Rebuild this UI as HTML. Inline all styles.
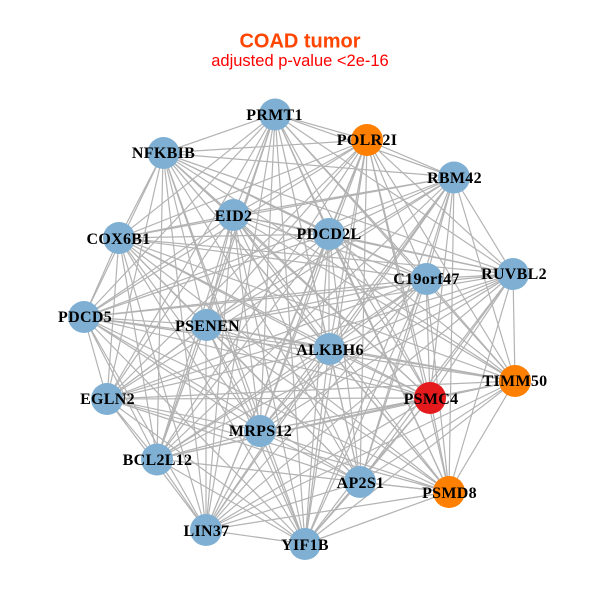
<!DOCTYPE html>
<html><head><meta charset="utf-8"><style>html,body{margin:0;padding:0;background:#fff}svg{display:block}.l{font:bold 16px "Liberation Serif",serif;fill:#000;text-anchor:middle;letter-spacing:.3px}</style></head><body>
<svg width="600" height="600" viewBox="0 0 600 600" xmlns="http://www.w3.org/2000/svg">
<rect width="600" height="600" fill="#fff"/>
<g fill="none" stroke="#b3b3b3" stroke-width="1.2">
<path d="M275 114L163 153M275 114L367 140M275 114L454 177M275 114L233 215M275 114L119 238M275 114L329 234M275 114L426 279M275 114L513 274M275 114L84 317M275 114L206 325M275 114L329 349M275 114L515 381M275 114L430 398M275 114L107 399M275 114L260 431M275 114L157 459M275 114L360 482M275 114L449 492M275 114L206 530M275 114L305 544"/>
<path d="M163 153L367 140M163 153L454 177M163 153L233 215M163 153L119 238M163 153L329 234M163 153L426 279M163 153L513 274M163 153L84 317M163 153L206 325M163 153L329 349M163 153L515 381M163 153L430 398M163 153L107 399M163 153L260 431M163 153L157 459M163 153L360 482M163 153L449 492M163 153L206 530M163 153L305 544"/>
<path d="M367 140L454 177M367 140L233 215M367 140L119 238M367 140L329 234M367 140L426 279M367 140L513 274M367 140L84 317M367 140L206 325M367 140L329 349M367 140L515 381M367 140L430 398M367 140L107 399M367 140L260 431M367 140L157 459M367 140L360 482M367 140L449 492M367 140L206 530M367 140L305 544"/>
<path d="M454 177L233 215M454 177L119 238M454 177L329 234M454 177L426 279M454 177L513 274M454 177L84 317M454 177L206 325M454 177L329 349M454 177L515 381M454 177L430 398M454 177L107 399M454 177L260 431M454 177L157 459M454 177L360 482M454 177L449 492M454 177L206 530M454 177L305 544"/>
<path d="M233 215L119 238M233 215L329 234M233 215L426 279M233 215L513 274M233 215L84 317M233 215L206 325M233 215L329 349M233 215L515 381M233 215L430 398M233 215L107 399M233 215L260 431M233 215L157 459M233 215L360 482M233 215L449 492M233 215L206 530M233 215L305 544"/>
<path d="M119 238L329 234M119 238L426 279M119 238L513 274M119 238L84 317M119 238L206 325M119 238L329 349M119 238L515 381M119 238L430 398M119 238L107 399M119 238L260 431M119 238L157 459M119 238L360 482M119 238L449 492M119 238L206 530M119 238L305 544"/>
<path d="M329 234L426 279M329 234L513 274M329 234L84 317M329 234L206 325M329 234L329 349M329 234L515 381M329 234L430 398M329 234L107 399M329 234L260 431M329 234L157 459M329 234L360 482M329 234L449 492M329 234L206 530M329 234L305 544"/>
<path d="M426 279L513 274M426 279L84 317M426 279L206 325M426 279L329 349M426 279L515 381M426 279L430 398M426 279L107 399M426 279L260 431M426 279L157 459M426 279L360 482M426 279L449 492M426 279L206 530M426 279L305 544"/>
<path d="M513 274L84 317M513 274L206 325M513 274L329 349M513 274L515 381M513 274L430 398M513 274L107 399M513 274L260 431M513 274L157 459M513 274L360 482M513 274L449 492M513 274L206 530M513 274L305 544"/>
<path d="M84 317L206 325M84 317L329 349M84 317L515 381M84 317L430 398M84 317L107 399M84 317L260 431M84 317L157 459M84 317L360 482M84 317L449 492M84 317L206 530M84 317L305 544"/>
<path d="M206 325L329 349M206 325L515 381M206 325L430 398M206 325L107 399M206 325L260 431M206 325L157 459M206 325L360 482M206 325L449 492M206 325L206 530M206 325L305 544"/>
<path d="M329 349L515 381M329 349L430 398M329 349L107 399M329 349L260 431M329 349L157 459M329 349L360 482M329 349L449 492M329 349L206 530M329 349L305 544"/>
<path d="M515 381L430 398M515 381L107 399M515 381L260 431M515 381L157 459M515 381L360 482M515 381L449 492M515 381L206 530M515 381L305 544"/>
<path d="M430 398L107 399M430 398L260 431M430 398L157 459M430 398L360 482M430 398L449 492M430 398L206 530M430 398L305 544"/>
<path d="M107 399L260 431M107 399L157 459M107 399L360 482M107 399L449 492M107 399L206 530M107 399L305 544"/>
<path d="M260 431L157 459M260 431L360 482M260 431L449 492M260 431L206 530M260 431L305 544"/>
<path d="M157 459L360 482M157 459L449 492M157 459L206 530M157 459L305 544"/>
<path d="M360 482L449 492M360 482L206 530M360 482L305 544"/>
<path d="M449 492L206 530M449 492L305 544M206 530L305 544"/>
</g>
<g fill="#7fb0d3">
<circle cx="275" cy="114.500" r="16"/><circle cx="163.500" cy="153" r="16"/><circle cx="454" cy="177.500" r="16"/><circle cx="233.500" cy="215" r="16"/><circle cx="119" cy="238" r="16"/><circle cx="329" cy="234" r="16"/><circle cx="426.500" cy="279" r="16"/><circle cx="513" cy="274" r="16"/><circle cx="84" cy="317" r="16"/><circle cx="206.500" cy="325" r="16"/><circle cx="329.500" cy="349" r="16"/><circle cx="107" cy="399" r="16"/><circle cx="260" cy="431" r="16"/><circle cx="157" cy="459.500" r="16"/><circle cx="360" cy="482" r="16"/><circle cx="206" cy="530" r="16"/><circle cx="305" cy="544" r="16"/>
</g>
<g fill="#ff7f00"><circle cx="367" cy="140" r="16"/><circle cx="515" cy="381" r="16"/><circle cx="449" cy="492" r="16"/></g>
<circle cx="430" cy="398" r="16" fill="#e41a1c"/>
<g>
<text class="l" x="274.500" y="120">PRMT1</text>
<text class="l" x="163.500" y="158">NFKBIB</text>
<text class="l" x="367" y="145">POLR2I</text>
<text class="l" x="454.500" y="183">RBM42</text>
<text class="l" x="233.500" y="221">EID2</text>
<text class="l" x="118.500" y="244">COX6B1</text>
<text class="l" x="329" y="239">PDCD2L</text>
<text class="l" x="426.500" y="284">C19orf47</text>
<text class="l" x="514" y="279">RUVBL2</text>
<text class="l" x="85" y="322">PDCD5</text>
<text class="l" x="207.500" y="331">PSENEN</text>
<text class="l" x="330" y="355">ALKBH6</text>
<text class="l" x="515" y="386">TIMM50</text>
<text class="l" x="431" y="404">PSMC4</text>
<text class="l" x="107.500" y="404">EGLN2</text>
<text class="l" x="260.500" y="436">MRPS12</text>
<text class="l" x="157.500" y="465">BCL2L12</text>
<text class="l" x="360.500" y="488">AP2S1</text>
<text class="l" x="449.500" y="498">PSMD8</text>
<text class="l" x="206.500" y="536">LIN37</text>
<text class="l" x="305" y="550">YIF1B</text>
</g>
<text x="300" y="47.500" text-anchor="middle" font-family="Liberation Sans, sans-serif" font-weight="bold" font-size="20" fill="#ff4500">COAD tumor</text>
<text x="300" y="66" text-anchor="middle" font-family="Liberation Sans, sans-serif" font-size="16.500" fill="#ff0000">adjusted p-value &lt;2e-16</text>
</svg>
</body></html>
